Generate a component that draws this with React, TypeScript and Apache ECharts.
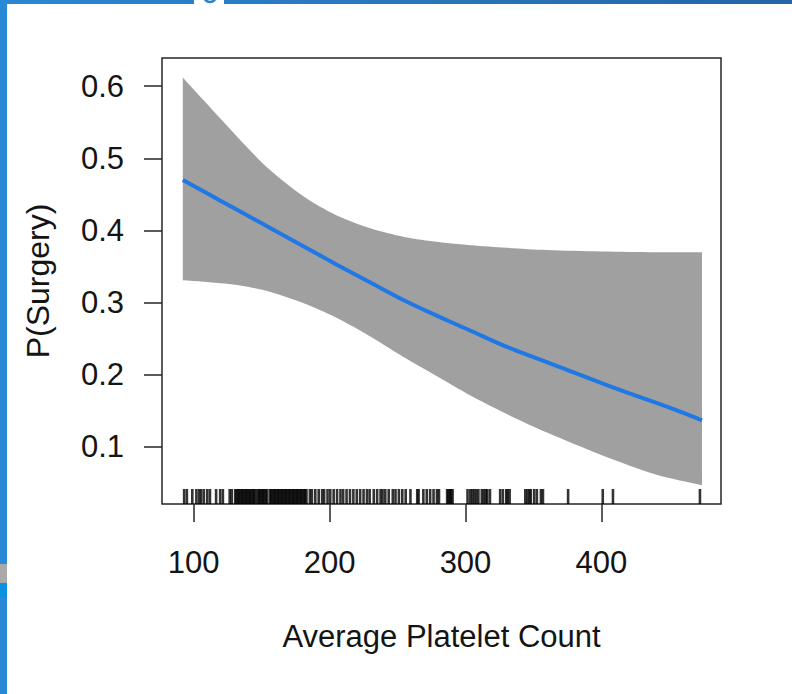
import React, { useEffect, useRef } from "react";
import * as echarts from "echarts";

const xTicks = [100, 200, 300, 400];
const yTicks = [0.1, 0.2, 0.3, 0.4, 0.5, 0.6];
const xTitle = "Average Platelet Count";
const yTitle = "P(Surgery)";

const xMin = 76.7;
const xMax = 488;
const yMin = 0.021;
const yMax = 0.639;

const bandX = [92, 107, 132, 156, 181, 205, 230, 255, 280, 304, 330, 360, 400, 440, 474];
const bandUpper = [0.612, 0.581, 0.53, 0.484, 0.447, 0.421, 0.403, 0.391, 0.384, 0.3795, 0.376, 0.373, 0.371, 0.37, 0.37];
const bandLower = [0.331, 0.329, 0.3245, 0.315, 0.299, 0.279, 0.253, 0.224, 0.197, 0.171, 0.146, 0.12, 0.089, 0.062, 0.047];

const fitX = [92, 120, 150, 180, 205, 230, 255, 280, 305, 330, 355, 380, 405, 430, 455, 474];
const fitY = [0.47, 0.441, 0.41, 0.379, 0.353, 0.328, 0.303, 0.281, 0.26, 0.239, 0.221, 0.203, 0.185, 0.168, 0.151, 0.137];

const rugX = [
  93, 95, 99, 102, 104, 105.5, 107.5, 110, 112, 116.5, 119.5, 121.5, 126.5, 128,
  130.5, 131.5, 132.5, 133.5, 134.5, 135.5, 136.5, 137.5, 138.5, 139.5, 140.5, 141.5, 142.5, 143.5, 144.5, 145.5,
  147, 148, 149, 150, 151, 152, 153, 154,
  156, 157, 158, 159, 160, 161, 162, 163, 164, 165, 166, 167, 168, 169, 170, 171, 172, 173, 174, 175, 176, 177, 178, 179, 180, 181, 182, 183,
  185.5, 187, 189.5, 192, 194.5, 196, 198.5, 200.5, 203, 205.5, 208, 210, 212.5, 215, 217.5, 220, 222.5, 225, 227.5, 229.5,
  232.5, 235, 237.5, 239, 241, 243.5, 246.5, 248.5, 251, 253.5, 256, 259.5, 264.5, 265.5, 269, 271.5, 274, 276.5, 279, 280.5,
  286.5, 287.5, 288.5, 289.5, 290.5, 301.5, 303.5, 305, 306.5, 308, 309.5, 312, 313.5, 315, 316, 318, 325.5, 327.5, 330, 331, 332.5,
  344, 345.5, 347, 348, 350.5, 352.5, 355.5, 357, 375.5, 401, 408.5, 472.5,
];

const FONT = "'Liberation Sans', Arial, sans-serif";
const TEXT = "#141414";
const FRAME = "#262626";

export default function App() {
  const ref = useRef<HTMLDivElement>(null);

  useEffect(() => {
    if (!ref.current) return;
    const chart = echarts.init(ref.current, undefined, { renderer: "svg" });
    const option: any = {
      animation: false,
      backgroundColor: "#ffffff",
      grid: {
        left: 162,
        right: 71,
        top: 58,
        bottom: 190,
        show: true,
        borderColor: FRAME,
        borderWidth: 1.5,
        backgroundColor: "transparent",
      },
      xAxis: {
        type: "value",
        min: xMin,
        max: xMax,
        name: xTitle,
        nameLocation: "middle",
        nameGap: 117,
        nameTextStyle: { fontFamily: FONT, fontSize: 31, color: TEXT },
        axisLine: { show: false },
        axisTick: { show: true, inside: false, length: 18, customValues: xTicks, lineStyle: { color: FRAME, width: 1.5 } },
        axisLabel: { customValues: xTicks, margin: 43, fontFamily: FONT, fontSize: 31, color: TEXT },
        splitLine: { show: false },
      },
      yAxis: {
        type: "value",
        min: yMin,
        max: yMax,
        name: yTitle,
        nameLocation: "middle",
        nameGap: 108,
        nameTextStyle: { fontFamily: FONT, fontSize: 32, color: TEXT },
        axisLine: { show: false },
        axisTick: { show: true, inside: false, length: 18, customValues: yTicks, lineStyle: { color: FRAME, width: 1.5 } },
        axisLabel: {
          customValues: yTicks,
          margin: 38,
          fontFamily: FONT,
          fontSize: 31,
          color: TEXT,
          formatter: (v: number) => v.toFixed(1),
        },
        splitLine: { show: false },
      },
      graphic: [
        {
          type: "rect",
          shape: { x: 0, y: 0, width: 792, height: 4 },
          style: {
            fill: new echarts.graphic.LinearGradient(0, 0, 1, 0, [
              { offset: 0, color: "#2b87d2" },
              { offset: 1, color: "#2466a6" },
            ]),
          },
          silent: true,
        },
        { type: "rect", shape: { x: 194, y: 0, width: 30, height: 4 }, style: { fill: "#ffffff" }, silent: true },
        {
          type: "arc",
          shape: { cx: 210, cy: -4, r: 6, startAngle: 0, endAngle: Math.PI },
          style: { stroke: "#2d80cc", lineWidth: 2.5, fill: "none" },
          silent: true,
        },
        { type: "rect", shape: { x: 0, y: 0, width: 7, height: 694 }, style: { fill: "#2a89d7" }, silent: true },
        { type: "rect", shape: { x: 0, y: 564, width: 7, height: 19 }, style: { fill: "#a9a9a9" }, silent: true },
        { type: "rect", shape: { x: 0, y: 583, width: 7, height: 14 }, style: { fill: "#0b8fe0" }, silent: true },
      ],
      series: [
        {
          type: "custom",
          data: bandX.map((x, i) => [x, bandLower[i], bandUpper[i]]),
          encode: { x: 0, y: [1, 2] },
          silent: true,
          z: 1,
          renderItem: (params: any, api: any) => {
            if (params.dataIndex !== 0) return null;
            const up = bandX.map((x, i) => api.coord([x, bandUpper[i]]));
            const lo = bandX.map((x, i) => api.coord([x, bandLower[i]])).reverse();
            const pts = [up[0], ...up, up[up.length - 1], lo[0], ...lo, lo[lo.length - 1]];
            return {
              type: "polygon",
              shape: { points: pts, smooth: 0.3 },
              style: { fill: "#a0a0a0", stroke: "none" },
            };
          },
        },
        {
          type: "line",
          data: fitX.map((x, i) => [x, fitY[i]]),
          symbol: "none",
          smooth: 0.3,
          lineStyle: { color: "#1f78e3", width: 4 },
          silent: true,
          z: 3,
        },
        {
          type: "scatter",
          data: rugX.map((x) => [x, yMin]),
          symbol: "rect",
          symbolSize: [2.6, 15],
          symbolOffset: [0, -7.5],
          itemStyle: { color: "#000000" },
          silent: true,
          z: 4,
        },
      ],
    };
    chart.setOption(option);
    return () => chart.dispose();
  }, []);

  return (
    <div
      ref={ref}
      style={{ position: "fixed", left: 0, top: 0, width: 792, height: 694, background: "#ffffff" }}
    />
  );
}
